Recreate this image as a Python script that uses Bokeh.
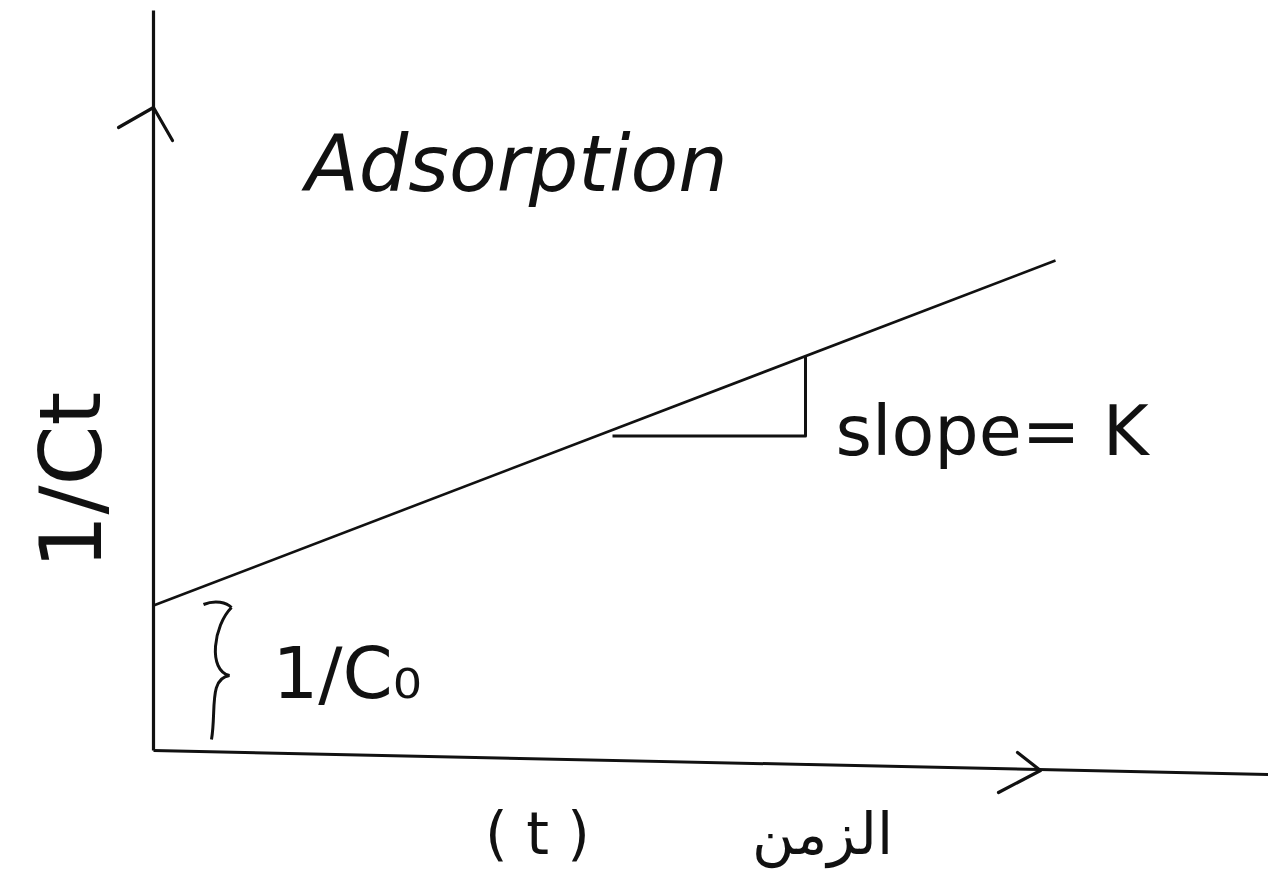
from bokeh.plotting import figure
from bokeh.models import Range1d, ColumnDataSource
from bokeh.core.properties import value
from bokeh.embed import file_html
from bokeh.resources import INLINE

# Linear adsorption plot: 1/Ct against time t, intercept 1/C0, slope K
t_line = [0.0, 9.02]          # time, start and end of the drawn line
inv_ct_line = [1.45, 4.90]    # 1/Ct at those times
intercept = inv_ct_line[0]    # 1/C0
slope_k = (inv_ct_line[1] - inv_ct_line[0]) / (t_line[1] - t_line[0])

# slope triangle: run between these two times
tri_t = [4.59, 6.52]

title_text = "Adsorption"
slope_label = "slope= K"
intercept_label = "1/C\u2080"
y_label = "1/Ct"
x_label = "( t )"
x_label_ar = "الزمن"

INK = "#111111"

p = figure(
    width=1268, height=872,
    x_range=Range1d(-1.53, 11.15), y_range=Range1d(-1.22, 7.50),
    output_backend="svg", toolbar_location=None,
    min_border=0, min_border_left=0, min_border_right=0,
    min_border_top=0, min_border_bottom=0,
)
p.xaxis.visible = False
p.yaxis.visible = False
p.xgrid.visible = False
p.ygrid.visible = False
p.outline_line_color = None
p.background_fill_color = "white"
p.border_fill_color = "white"

# axes drawn by hand style
p.line([0, 0], [0, 7.40], line_color=INK, line_width=3.2)
p.line([0, 11.15], [0, -0.24], line_color=INK, line_width=3.0)
# arrowheads
p.multi_line(
    xs=[[-0.35, 0.0, 0.19], [8.64, 8.87, 8.45]],
    ys=[[6.23, 6.43, 6.10], [-0.02, -0.20, -0.42]],
    line_color=INK, line_width=3.2, line_join="round", line_cap="round",
)

# the fitted straight line
p.line(t_line, inv_ct_line, line_color=INK, line_width=2.6)

# slope triangle
t_top = tri_t[1]
y_top = intercept + slope_k * t_top
y_base = intercept + slope_k * tri_t[0] - 0.06
p.line([tri_t[0], t_top, t_top], [y_base, y_base, y_top],
       line_color=INK, line_width=3.0, line_join="round")

# curly brace marking the intercept
brace = ColumnDataSource(dict(
    x0=[0.50, 0.78, 0.76], y0=[1.46, 1.43, 0.75],
    x1=[0.78, 0.76, 0.58], y1=[1.43, 0.75, 0.11],
    cx0=[0.62, 0.60, 0.55], cy0=[1.51, 1.25, 0.72],
    cx1=[0.73, 0.54, 0.63], cy1=[1.48, 0.80, 0.40],
))
p.bezier(x0="x0", y0="y0", x1="x1", y1="y1", cx0="cx0", cy0="cy0",
         cx1="cx1", cy1="cy1", source=brace, line_color=INK, line_width=3.0)

font = value("DejaVu Sans")

p.text(x=[1.52], y=[5.87], text=[title_text], text_font=font,
       text_font_size="78px", text_color=INK, text_baseline="alphabetic",
       text_align="left", text_font_style="italic")
p.text(x=[6.82], y=[3.20], text=[slope_label], text_font=font,
       text_font_size="70px", text_color=INK, text_baseline="alphabetic",
       text_align="left")
p.text(x=[1.19], y=[0.78], text=[intercept_label], text_font=font,
       text_font_size="72px", text_color=INK, text_baseline="alphabetic",
       text_align="left")
p.text(x=[-0.83], y=[2.70], text=[y_label], text_font=font,
       text_font_size="86px", text_color=INK, text_baseline="middle",
       text_align="center", angle=1.5708)
p.text(x=[3.84], y=[-0.83], text=[x_label], text_font=font,
       text_font_size="58px", text_color=INK, text_baseline="middle",
       text_align="center")
p.text(x=[6.69], y=[-0.83], text=[x_label_ar], text_font=font,
       text_font_size="58px", text_color=INK, text_baseline="middle",
       text_align="center")

open("out.html", "w").write(file_html(p, INLINE))
